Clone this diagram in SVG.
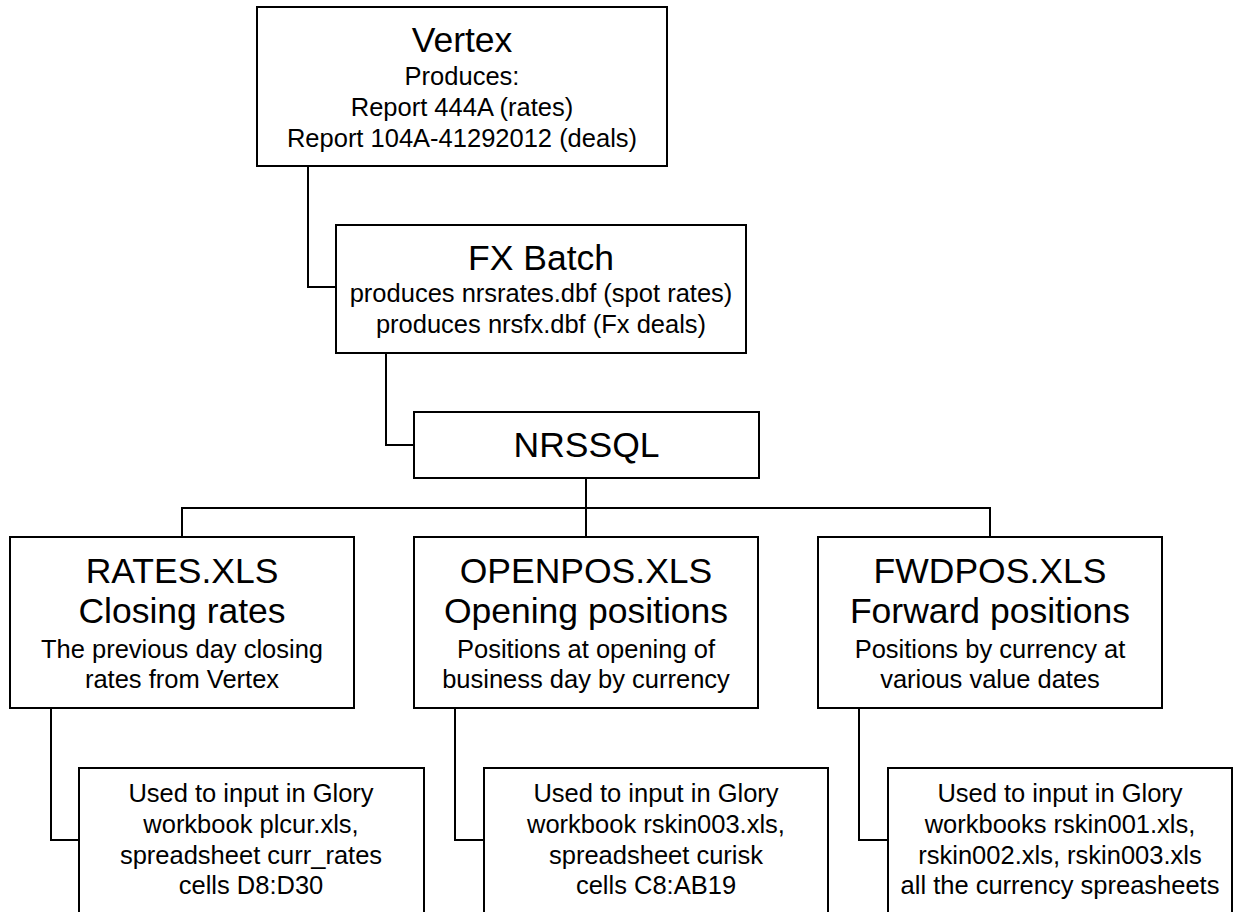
<svg xmlns="http://www.w3.org/2000/svg" width="1234" height="912" viewBox="0 0 1234 912">
<style>
  .box { fill: #ffffff; stroke: #000000; stroke-width: 2; }
  .conn { fill: none; stroke: #000000; stroke-width: 2; }
  text { font-family: "Liberation Sans", Arial, sans-serif; fill: #000000; text-anchor: middle; }
  .t { font-size: 35.5px; }
  .b { font-size: 25.5px; }
</style>
<rect width="1234" height="912" fill="#ffffff"/>
<g id="connectors">
  <path class="conn" d="M308,166 V287 H336"/>
  <path class="conn" d="M386,353 V445 H414"/>
  <path class="conn" d="M586,478 V537"/>
  <path class="conn" d="M182,537 V508 H990 V537"/>
  <path class="conn" d="M51,708 V840 H79"/>
  <path class="conn" d="M455,708 V840 H484"/>
  <path class="conn" d="M859,708 V840 H888"/>
</g>
<g id="vertex">
  <rect class="box" x="257" y="7" width="410" height="159"/>
  <text class="t" x="462" y="52">Vertex</text>
  <text class="b" x="462" y="85">Produces:</text>
  <text class="b" x="462" y="116">Report 444A (rates)</text>
  <text class="b" x="462" y="147">Report 104A-41292012 (deals)</text>
</g>
<g id="fxbatch">
  <rect class="box" x="336" y="225" width="410" height="128"/>
  <text class="t" x="541" y="270">FX Batch</text>
  <text class="b" x="541" y="302">produces nrsrates.dbf (spot rates)</text>
  <text class="b" x="541" y="333">produces nrsfx.dbf (Fx deals)</text>
</g>
<g id="nrssql">
  <rect class="box" x="414" y="412" width="345" height="66"/>
  <text class="t" x="586.5" y="457">NRSSQL</text>
</g>
<g id="rates">
  <rect class="box" x="10" y="537" width="344" height="171"/>
  <text class="t" x="182" y="582.5">RATES.XLS</text>
  <text class="t" x="182" y="623">Closing rates</text>
  <text class="b" x="182" y="657.5">The previous day closing</text>
  <text class="b" x="182" y="688">rates from Vertex</text>
</g>
<g id="openpos">
  <rect class="box" x="414" y="537" width="344" height="171"/>
  <text class="t" x="586" y="582.5">OPENPOS.XLS</text>
  <text class="t" x="586" y="623">Opening positions</text>
  <text class="b" x="586" y="657.5">Positions at opening of</text>
  <text class="b" x="586" y="688">business day by currency</text>
</g>
<g id="fwdpos">
  <rect class="box" x="818" y="537" width="344" height="171"/>
  <text class="t" x="990" y="582.5">FWDPOS.XLS</text>
  <text class="t" x="990" y="623">Forward positions</text>
  <text class="b" x="990" y="657.5">Positions by currency at</text>
  <text class="b" x="990" y="688">various value dates</text>
</g>
<g id="rates-use">
  <rect class="box" x="79" y="768" width="345" height="147"/>
  <text class="b" x="251" y="802">Used to input in Glory</text>
  <text class="b" x="251" y="833">workbook plcur.xls,</text>
  <text class="b" x="251" y="863.5">spreadsheet curr_rates</text>
  <text class="b" x="251" y="894">cells D8:D30</text>
</g>
<g id="openpos-use">
  <rect class="box" x="484" y="768" width="344" height="147"/>
  <text class="b" x="656" y="802">Used to input in Glory</text>
  <text class="b" x="656" y="833">workbook rskin003.xls,</text>
  <text class="b" x="656" y="863.5">spreadsheet curisk</text>
  <text class="b" x="656" y="894">cells C8:AB19</text>
</g>
<g id="fwdpos-use">
  <rect class="box" x="888" y="768" width="344" height="147"/>
  <text class="b" x="1060" y="802">Used to input in Glory</text>
  <text class="b" x="1060" y="833">workbooks rskin001.xls,</text>
  <text class="b" x="1060" y="863.5">rskin002.xls, rskin003.xls</text>
  <text class="b" x="1060" y="894">all the currency spreasheets</text>
</g>
</svg>
